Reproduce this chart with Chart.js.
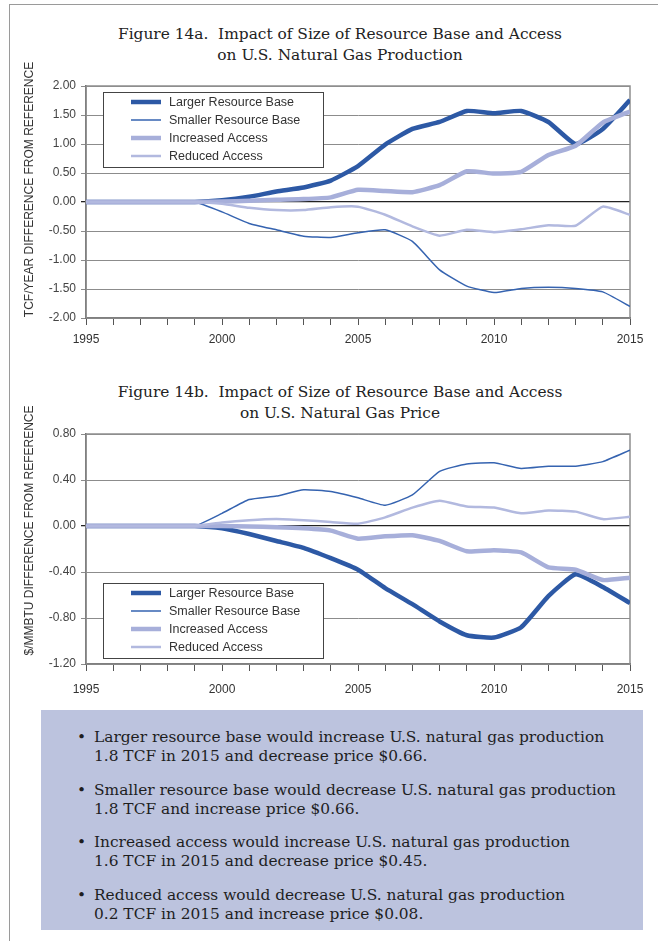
<!DOCTYPE html>
<html>
<head>
<meta charset="utf-8">
<script src="https://cdn.jsdelivr.net/npm/chart.js@4.4.1/dist/chart.umd.min.js"></script>
<style>
body { margin: 0; width: 658px; height: 941px; position: relative; background: #fff; overflow: hidden; font-family: "DejaVu Serif", serif; }
#frame { position: absolute; left: 9px; top: 4px; width: 700px; height: 1000px; border-left: 1.5px solid #9a9a9a; border-top: 1.5px solid #9a9a9a; }
.title { position: absolute; left: 40px; width: 600px; text-align: center; font-size: 15.4px; line-height: 21px; color: #222; white-space: pre; }
.wrap { position: absolute; left: 0; width: 658px; }
#notes { position: absolute; left: 41px; top: 710px; width: 602px; height: 220px; background: #bcc3de; }
.note { position: absolute; left: 53px; font-size: 15.4px; line-height: 19px; color: #1e1e1e; white-space: nowrap; }
.note::before { content: "\2022"; position: absolute; left: -17px; }
</style>
</head>
<body>
<div id="frame"></div>

<div class="title" style="top:24px">Figure 14a.  Impact of Size of Resource Base and Access
on U.S. Natural Gas Production</div>
<div class="wrap" style="top:50px;height:300px"><canvas id="prod" width="658" height="300"></canvas></div>

<div class="title" style="top:382px">Figure 14b.  Impact of Size of Resource Base and Access
on U.S. Natural Gas Price</div>
<div class="wrap" style="top:398px;height:298px"><canvas id="price" width="658" height="298"></canvas></div>

<div id="notes">
  <div class="note" style="top:18px">Larger resource base would increase U.S. natural gas production<br>1.8 TCF in 2015 and decrease price $0.66.</div>
  <div class="note" style="top:71px">Smaller resource base would decrease U.S. natural gas production<br>1.8 TCF and increase price $0.66.</div>
  <div class="note" style="top:123px">Increased access would increase U.S. natural gas production<br>1.6 TCF in 2015 and decrease price $0.45.</div>
  <div class="note" style="top:176px">Reduced access would decrease U.S. natural gas production<br>0.2 TCF in 2015 and increase price $0.08.</div>
</div>

<script>
// years on the x axis
const years = [1995, 1996, 1997, 1998, 1999, 2000, 2001, 2002, 2003, 2004, 2005,
               2006, 2007, 2008, 2009, 2010, 2011, 2012, 2013, 2014, 2015];

// series names
const seriesNames = ['Larger Resource Base', 'Smaller Resource Base', 'Increased Access', 'Reduced Access'];

// figure 14a: production, TCF/year difference from reference
const prodLarger    = [0, 0, 0, 0, 0, 0.03, 0.09, 0.18, 0.25, 0.37, 0.62, 0.99, 1.26, 1.38, 1.57, 1.53, 1.57, 1.38, 1.00, 1.26, 1.76];
const prodSmaller   = [0, 0, 0, 0, 0, -0.17, -0.37, -0.48, -0.59, -0.61, -0.53, -0.48, -0.68, -1.17, -1.45, -1.56, -1.49, -1.47, -1.49, -1.55, -1.80];
const prodIncreased = [0, 0, 0, 0, 0, 0.01, 0.02, 0.04, 0.05, 0.08, 0.21, 0.19, 0.17, 0.29, 0.53, 0.49, 0.52, 0.81, 0.97, 1.37, 1.56];
const prodReduced   = [0, 0, 0, 0, 0, -0.03, -0.10, -0.14, -0.14, -0.09, -0.08, -0.22, -0.42, -0.58, -0.48, -0.52, -0.47, -0.40, -0.41, -0.08, -0.22];

// figure 14b: price, $/MMBTU difference from reference
const priceLarger    = [0, 0, 0, 0, 0, -0.02, -0.07, -0.13, -0.19, -0.28, -0.38, -0.54, -0.68, -0.83, -0.95, -0.97, -0.88, -0.61, -0.42, -0.53, -0.67];
const priceSmaller   = [0, 0, 0, 0, 0, 0.11, 0.23, 0.26, 0.315, 0.30, 0.245, 0.18, 0.27, 0.475, 0.54, 0.55, 0.50, 0.52, 0.52, 0.56, 0.66];
const priceIncreased = [0, 0, 0, 0, 0, 0, -0.005, -0.01, -0.02, -0.04, -0.11, -0.09, -0.08, -0.13, -0.22, -0.21, -0.23, -0.36, -0.38, -0.47, -0.45];
const priceReduced   = [0, 0, 0, 0, 0, 0.03, 0.05, 0.06, 0.05, 0.035, 0.02, 0.075, 0.16, 0.22, 0.17, 0.16, 0.11, 0.135, 0.125, 0.06, 0.08];

// y axis ticks
const prodTicks = { min: -2, max: 2, step: 0.5 };
const priceTicks = { min: -1.2, max: 0.8, step: 0.4 };

// line styles per series
const styles = [
    { color: '#2d59a5', width: 4.5, order: 4 },
    { color: '#3563b0', width: 1.5, order: 3 },
    { color: '#a7afda', width: 4.5, order: 2 },
    { color: '#b2b9df', width: 2.5, order: 1 }
];

const tickFont = { family: 'Liberation Sans', size: 12 };

// draws the box round the plot area
const frame = {
    id: 'frame',
    beforeDatasetsDraw(chart) {
        const a = chart.chartArea;
        const c = chart.ctx;
        c.save();
        c.strokeStyle = '#8e8e8e';
        c.lineWidth = 1.5;
        c.strokeRect(a.left, a.top, a.right - a.left, a.bottom - a.top);
        c.restore();
    }
};

// rotated y axis title, centre set by hand as in the original figure
const sideTitle = {
    id: 'sideTitle',
    afterDraw(chart, args, opts) {
        const a = chart.chartArea;
        const c = chart.ctx;
        c.save();
        c.translate(30, (a.top + a.bottom) / 2 + opts.shift);
        c.rotate(-Math.PI / 2);
        c.font = '12px "Liberation Sans"';
        c.fillStyle = '#333';
        c.textAlign = 'center';
        c.textBaseline = 'middle';
        c.fillText(opts.text, 0, 0);
        c.restore();
    }
};

// legend box drawn inside the plot area
const insideLegend = {
    id: 'insideLegend',
    afterDatasetsDraw(chart, args, opts) {
        const a = chart.chartArea;
        const c = chart.ctx;
        const x = a.left + 17;
        const y = opts.fromBottom ? a.bottom - 81 : a.top + 6;
        c.save();
        c.fillStyle = '#fff';
        c.fillRect(x, y, 220, 75);
        c.strokeStyle = '#444';
        c.lineWidth = 1;
        c.strokeRect(x + 0.5, y + 0.5, 220, 75);
        c.font = '12.5px "Liberation Sans"';
        c.textBaseline = 'middle';
        chart.data.datasets.forEach((ds, i) => {
            const ly = y + 10 + i * 18;
            c.strokeStyle = ds.borderColor;
            c.lineWidth = ds.borderWidth;
            c.beginPath();
            c.moveTo(x + 28, ly);
            c.lineTo(x + 58, ly);
            c.stroke();
            c.fillStyle = '#333';
            c.fillText(ds.label, x + 66, ly + 1);
        });
        c.restore();
    }
};

function makeChart(id, series, ticks, title, titleShift, labelPad, legendBottom) {
    const datasets = series.map((vals, i) => ({
        label: seriesNames[i],
        data: years.map((yr, k) => ({ x: yr, y: vals[k] })),
        borderColor: styles[i].color,
        borderWidth: styles[i].width,
        order: styles[i].order,
        pointRadius: 0,
        tension: 0.15,
        fill: false
    }));

    return new Chart(document.getElementById(id), {
        type: 'line',
        data: { datasets: datasets },
        options: {
            responsive: false,
            animation: false,
            layout: { padding: { top: 36, right: 28, bottom: 0, left: 0 } },
            plugins: {
                legend: { display: false },
                tooltip: { enabled: false },
                insideLegend: { fromBottom: legendBottom },
                sideTitle: { text: title, shift: titleShift }
            },
            scales: {
                x: {
                    type: 'linear',
                    min: years[0],
                    max: years[years.length - 1],
                    afterFit: s => { s.height = 32; },
                    ticks: {
                        stepSize: 1,
                        autoSkip: false,
                        maxRotation: 0,
                        padding: labelPad,
                        color: '#333',
                        font: tickFont,
                        callback: v => (v % 5 === 0 ? String(v) : '')
                    },
                    grid: { drawOnChartArea: false, tickLength: 7, color: '#555', lineWidth: 1 },
                    border: { color: '#555', width: 1.5 }
                },
                y: {
                    min: ticks.min,
                    max: ticks.max,
                    afterFit: s => { s.width = 86; },
                    ticks: {
                        stepSize: ticks.step,
                        padding: 5,
                        color: '#444',
                        font: tickFont,
                        callback: v => Number(v).toFixed(2)
                    },
                    grid: {
                        tickLength: 5,
                        color: c => (Math.abs(c.tick.value) < 1e-9 ? '#222' : '#8c8c8c'),
                        lineWidth: c => (Math.abs(c.tick.value) < 1e-9 ? 1.3 : 1)
                    },
                    border: { color: '#555', width: 1.5 }
                }
            }
        },
        plugins: [frame, insideLegend, sideTitle]
    });
}

makeChart('prod', [prodLarger, prodSmaller, prodIncreased, prodReduced], prodTicks,
    'TCF/YEAR DIFFERENCE FROM REFERENCE', -12.5, 7, false);
makeChart('price', [priceLarger, priceSmaller, priceIncreased, priceReduced], priceTicks,
    '$/MMBTU DIFFERENCE FROM REFERENCE', -18.5, 11, true);
</script>
</body>
</html>
